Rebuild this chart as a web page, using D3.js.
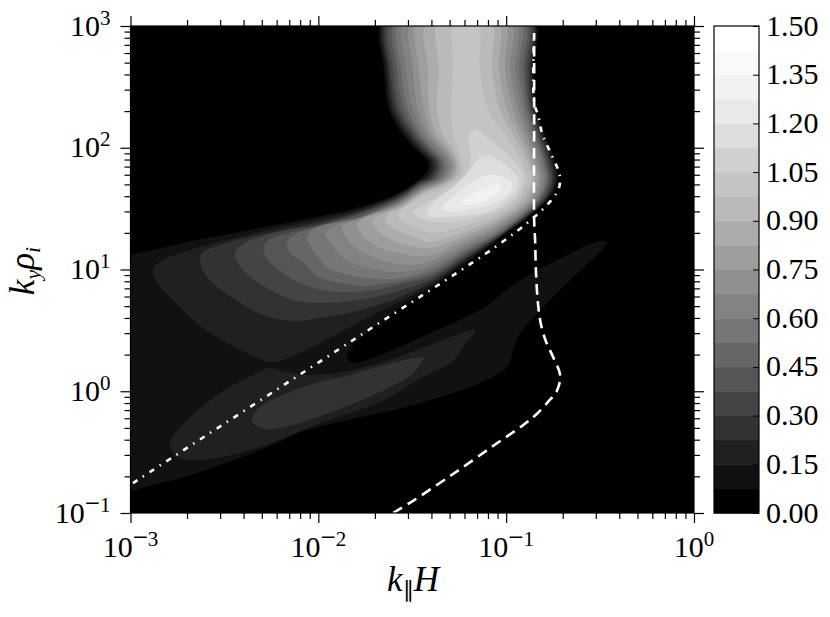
<!DOCTYPE html>
<html><head><meta charset="utf-8">
<script src="https://cdn.jsdelivr.net/npm/d3@7"></script>
<style>html,body{margin:0;padding:0;background:#fff}svg{display:block}text{font-family:"Liberation Serif",serif;fill:#000}</style>
</head><body><div id="c"></div>
<script>
// All contour data are log10(k_par H), log10(k_y rho_i).
const levelStep = 0.075, levelCount = 20;
const colorbarTicks = ["0.00","0.15","0.30","0.45","0.60","0.75","0.90","1.05","1.20","1.35","1.50"];
const bandGray = [0,17,32,50,68,85,102,118,130,144,158,172,186,196,208,221,233,242,249,255];
const xDecades = [-3,-2,-1,0], yDecades = [-1,0,1,2,3];

// plume rows shared by contour levels 1..13
const leftRowKy = [3.05,2.639,2.31,2.105,1.982,1.900,1.834,1.752];
const leftRowK = [
 [-1.655,-1.645,-1.634,-1.623,-1.607,-1.586,-1.565,-1.538,-1.501,-1.469,-1.421,-1.362,-1.272],
 [-1.650,-1.639,-1.629,-1.618,-1.602,-1.581,-1.560,-1.533,-1.496,-1.464,-1.416,-1.357,-1.282],
 [-1.623,-1.610,-1.597,-1.581,-1.565,-1.544,-1.522,-1.496,-1.469,-1.437,-1.410,-1.368,-1.293],
 [-1.549,-1.533,-1.517,-1.501,-1.485,-1.469,-1.453,-1.432,-1.410,-1.389,-1.368,-1.336,-1.282],
 [-1.480,-1.464,-1.448,-1.432,-1.416,-1.400,-1.384,-1.362,-1.341,-1.320,-1.304,-1.282,-1.256],
 [-1.424,-1.408,-1.392,-1.376,-1.365,-1.349,-1.333,-1.317,-1.301,-1.285,-1.274,-1.258,-1.237],
 [-1.416,-1.400,-1.384,-1.368,-1.357,-1.341,-1.325,-1.309,-1.293,-1.277,-1.266,-1.250,-1.229],
 [-1.453,-1.432,-1.416,-1.400,-1.384,-1.368,-1.352,-1.336,-1.320,-1.304,-1.288,-1.272,-1.250]];
const lowerRowK = [-1.405,-1.208,-1.032];
const lowerRowKy = [
 [0.848,0.865,0.889,0.914,0.939,0.963,0.996,1.029,1.070,1.119,1.177,1.226,1.300],
 [1.062,1.074,1.095,1.111,1.127,1.148,1.168,1.193,1.218,1.251,1.284,1.316,1.366],
 [1.259,1.267,1.275,1.284,1.292,1.300,1.316,1.333,1.357,1.382,1.407,1.431,1.464]];
const rightRowKy = [1.571,1.735,1.941,2.105,2.31,2.639,3.05];
const rightRowK = [
 [-0.782,-0.787,-0.795,-0.803,-0.814,-0.825,-0.835,-0.846,-0.857,-0.872,-0.888,-0.915,-0.942],
 [-0.723,-0.734,-0.745,-0.755,-0.766,-0.777,-0.787,-0.798,-0.814,-0.830,-0.846,-0.862,-0.888],
 [-0.750,-0.761,-0.771,-0.782,-0.793,-0.803,-0.814,-0.830,-0.846,-0.862,-0.883,-0.904,-0.936],
 [-0.793,-0.800,-0.809,-0.819,-0.830,-0.841,-0.857,-0.872,-0.888,-0.909,-0.931,-0.963,-1.005],
 [-0.838,-0.846,-0.854,-0.862,-0.872,-0.883,-0.897,-0.915,-0.936,-0.963,-0.995,-1.032,-1.096],
 [-0.854,-0.862,-0.870,-0.880,-0.894,-0.909,-0.931,-0.952,-0.979,-1.005,-1.037,-1.075,-1.139],
 [-0.854,-0.862,-0.870,-0.880,-0.894,-0.909,-0.931,-0.952,-0.979,-1.016,-1.048,-1.085,-1.155]];
// west parts of levels 1..13 (lobe tip and underside)
const westArcs = [
 [[-1.565,1.637],[-1.778,1.513],[-2.044,1.423],[-2.310,1.341],[-2.646,1.242],[-2.997,1.119],[-3.056,1.103],[-3.056,-0.844],[-2.997,-0.819],[-2.699,-0.696],[-2.433,-0.556],[-2.231,-0.433],[-2.097,-0.335],[-1.954,-0.277],[-1.458,-0.096],[-1.139,0.068],[-0.995,0.199],[-0.963,0.339],[-0.925,0.479],[-0.782,0.725],[-0.644,0.939],[-0.500,1.144],[-0.463,1.226],[-0.500,1.234],[-0.697,1.103],[-0.925,0.914],[-1.139,0.667],[-1.405,0.479],[-1.671,0.298],[-1.815,0.232],[-1.847,0.273],[-1.820,0.372],[-1.751,0.462],[-1.645,0.602],[-1.565,0.692]],
 [[-1.458,1.735],[-1.565,1.624],[-1.778,1.497],[-2.044,1.398],[-2.310,1.308],[-2.646,1.177],[-2.827,1.078],[-2.880,1.004],[-2.864,0.906],[-2.790,0.774],[-2.614,0.520],[-2.380,0.314],[-2.257,0.240],[-2.188,0.257],[-1.991,0.396],[-1.831,0.528],[-1.671,0.659],[-1.538,0.758]],
 [[-1.458,1.723],[-1.565,1.612],[-1.778,1.481],[-2.044,1.374],[-2.294,1.292],[-2.507,1.209],[-2.619,1.136],[-2.630,1.078],[-2.593,0.939],[-2.454,0.766],[-2.294,0.626],[-2.135,0.577],[-1.991,0.602],[-1.815,0.651],[-1.671,0.717],[-1.538,0.791]],
 [[-1.458,1.711],[-1.565,1.600],[-1.778,1.468],[-2.044,1.357],[-2.167,1.325],[-2.294,1.275],[-2.401,1.210],[-2.444,1.136],[-2.401,0.996],[-2.273,0.848],[-2.113,0.741],[-1.954,0.725],[-1.778,0.750],[-1.671,0.782],[-1.538,0.840]],
 [[-1.458,1.698],[-1.565,1.587],[-1.778,1.456],[-2.044,1.341],[-2.151,1.300],[-2.257,1.250],[-2.294,1.177],[-2.257,1.062],[-2.151,0.930],[-2.007,0.840],[-1.847,0.815],[-1.671,0.840],[-1.538,0.889]],
 [[-1.458,1.686],[-1.565,1.575],[-1.767,1.440],[-1.964,1.357],[-2.044,1.333],[-2.140,1.275],[-2.167,1.218],[-2.151,1.136],[-2.081,1.062],[-2.007,0.947],[-1.884,0.889],[-1.751,0.865],[-1.618,0.889]],
 [[-1.458,1.674],[-1.565,1.563],[-1.751,1.431],[-1.900,1.390],[-2.028,1.333],[-2.060,1.259],[-2.028,1.160],[-1.954,1.021],[-1.858,0.963],[-1.751,0.930],[-1.592,0.922]],
 [[-1.458,1.661],[-1.565,1.550],[-1.671,1.489],[-1.794,1.415],[-1.922,1.357],[-1.964,1.300],[-1.927,1.201],[-1.868,1.095],[-1.778,1.029],[-1.687,0.996],[-1.538,0.980]],
 [[-1.458,1.649],[-1.565,1.538],[-1.709,1.448],[-1.831,1.390],[-1.874,1.341],[-1.842,1.242],[-1.794,1.168],[-1.698,1.095],[-1.634,1.062],[-1.512,1.037]],
 [[-1.458,1.637],[-1.565,1.526],[-1.634,1.489],[-1.767,1.415],[-1.794,1.366],[-1.767,1.284],[-1.725,1.226],[-1.645,1.160],[-1.565,1.136],[-1.485,1.111]],
 [[-1.458,1.624],[-1.565,1.513],[-1.687,1.440],[-1.714,1.398],[-1.687,1.325],[-1.655,1.284],[-1.592,1.234],[-1.528,1.201]],
 [[-1.458,1.612],[-1.565,1.497],[-1.618,1.472],[-1.645,1.415],[-1.618,1.357],[-1.581,1.325],[-1.474,1.259]],
 [[-1.442,1.596],[-1.549,1.505],[-1.576,1.440],[-1.549,1.390],[-1.512,1.366]]];
// separate closed contours
const lobeLevel2 = [[-1.165,0.503],[-1.229,0.364],[-1.288,0.240],[-1.442,0.117],[-1.671,-0.088],[-1.991,-0.261],[-2.167,-0.376],[-2.310,-0.458],[-2.486,-0.532],[-2.646,-0.565],[-2.752,-0.540],[-2.790,-0.425],[-2.699,-0.236],[-2.523,-0.014],[-2.348,0.134],[-2.257,0.191],[-2.167,0.158],[-2.060,0.134],[-1.900,0.150],[-1.671,0.232],[-1.405,0.380]];
const lobeLevel3 = [[-1.442,0.273],[-1.496,0.150],[-1.671,-0.006],[-1.900,-0.154],[-2.135,-0.277],[-2.273,-0.310],[-2.353,-0.252],[-2.327,-0.154],[-2.167,-0.014],[-1.991,0.076],[-1.831,0.134],[-1.645,0.216]];
const peakLevel14 = [[-1.165,2.154],[-1.102,2.088],[-1.032,1.998],[-0.963,1.900],[-0.915,1.793],[-0.915,1.694],[-0.952,1.587],[-1.032,1.497],[-1.139,1.440],[-1.208,1.407],[-1.368,1.390],[-1.458,1.423],[-1.496,1.472],[-1.442,1.530],[-1.352,1.612],[-1.272,1.694],[-1.208,1.801],[-1.187,1.916],[-1.203,2.064],[-1.192,2.121]];
const peakLevel15 = [[-1.102,1.941],[-1.016,1.875],[-0.942,1.760],[-0.936,1.678],[-0.979,1.596],[-1.070,1.489],[-1.192,1.448],[-1.336,1.431],[-1.405,1.431],[-1.421,1.472],[-1.389,1.546],[-1.282,1.678],[-1.192,1.817],[-1.155,1.900]];
const peakLevel16 = [[-1.341,1.505],[-1.282,1.596],[-1.192,1.711],[-1.102,1.776],[-1.016,1.760],[-0.968,1.711],[-0.979,1.637],[-1.049,1.555],[-1.155,1.505],[-1.282,1.472]];
const peakLevel17 = [[-1.240,1.555],[-1.192,1.612],[-1.112,1.670],[-1.049,1.702],[-1.027,1.670],[-1.059,1.612],[-1.139,1.555],[-1.208,1.530]];
// overlaid curves
const dashedCurve = [[-1.602,-1],[-1.506,-0.910],[-1.283,-0.680],[-1.070,-0.450],[-0.909,-0.277],[-0.846,-0.199],[-0.777,-0.088],[-0.728,0.010],[-0.713,0.134],[-0.750,0.281],[-0.787,0.405],[-0.814,0.544],[-0.830,0.709],[-0.841,0.971],[-0.846,1.242],[-0.851,1.407],[-0.851,2.228],[-0.851,2.943]];
const dashDotCurve = [[-2.987,-0.754],[-1.815,0.421],[-1.112,1.127],[-0.942,1.316],[-0.857,1.423],[-0.782,1.530],[-0.723,1.653],[-0.713,1.743],[-0.723,1.817],[-0.766,1.965],[-0.809,2.121],[-0.830,2.269],[-0.851,2.368],[-0.851,2.943]];

const W=830,H=617, L=130.5,R=694,T=26,B=513, cbL=714,cbR=759;
const svg=d3.select("#c").append("svg").attr("width",W).attr("height",H);
const x=d3.scaleLog().domain([1e-3,1]).range([L,R]);
const y=d3.scaleLog().domain([0.1,1000]).range([B,T]);
const cb=d3.scaleLinear().domain([0,levelStep*levelCount]).range([B,T]);
const grayOf=i=>d3.rgb(bandGray[i],bandGray[i],bandGray[i]).formatHex();

svg.append("clipPath").attr("id","plot").append("rect").attr("x",L).attr("y",T).attr("width",R-L).attr("height",B-T);
const plot=svg.append("g").attr("clip-path","url(#plot)");
plot.append("rect").attr("x",L).attr("y",T).attr("width",R-L).attr("height",B-T).attr("fill",grayOf(0));

const area=d3.line().x(d=>x(Math.pow(10,d[0]))).y(d=>y(Math.pow(10,d[1]))).curve(d3.curveCatmullRomClosed.alpha(0.5));
const open=d3.line().x(d=>x(Math.pow(10,d[0]))).y(d=>y(Math.pow(10,d[1]))).curve(d3.curveCatmullRom.alpha(0.5));

function plume(l){
  const pts=[];
  leftRowKy.forEach((ky,r)=>pts.push([leftRowK[r][l],ky]));
  westArcs[l].forEach(p=>pts.push(p));
  lowerRowK.forEach((k,r)=>pts.push([k,lowerRowKy[r][l]]));
  rightRowKy.forEach((ky,r)=>pts.push([rightRowK[r][l],ky]));
  return pts;
}
const shapes=[];
d3.range(13).forEach(l=>{
  shapes.push({band:l+1,pts:plume(l)});
  if(l===1) shapes.push({band:2,pts:lobeLevel2});
  if(l===2) shapes.push({band:3,pts:lobeLevel3});
});
shapes.push({band:14,pts:peakLevel14},{band:15,pts:peakLevel15},{band:16,pts:peakLevel16},{band:17,pts:peakLevel17});
plot.selectAll("path.band").data(shapes).join("path").attr("class","band")
  .attr("d",d=>area(d.pts)).attr("fill",d=>grayOf(d.band));

plot.append("path").attr("d",open(dashedCurve)).attr("fill","none").attr("stroke","#fff").attr("stroke-width",2.6).attr("stroke-dasharray","10.5 6.5");
plot.append("path").attr("d",open(dashDotCurve)).attr("fill","none").attr("stroke","#fff").attr("stroke-width",2.6).attr("stroke-dasharray","5.5 6.5 1.5 6.5");

// axes
const minors=(decs)=>{const o=[];decs.slice(0,-1).forEach(d=>d3.range(2,10).forEach(m=>o.push(m*Math.pow(10,d))));return o;};
const xMaj=xDecades.map(d=>Math.pow(10,d)), yMaj=yDecades.map(d=>Math.pow(10,d));
function axis(make,scale,vals,size,tr){
  const g=svg.append("g").attr("transform",tr).call(make(scale).tickValues(vals).tickSize(size).tickFormat(""));
  g.select(".domain").remove();
  g.selectAll("line").attr("stroke","#000").attr("stroke-width",1.2);
}
[[d3.axisBottom,`translate(0,${B})`],[d3.axisTop,`translate(0,${T})`]].forEach(a=>{
  axis(a[0],x,xMaj,10,a[1]); axis(a[0],x,minors(xDecades),6,a[1]);
});
[[d3.axisLeft,`translate(${L},0)`],[d3.axisRight,`translate(${R},0)`]].forEach(a=>{
  axis(a[0],y,yMaj,10,a[1]); axis(a[0],y,minors(yDecades),6,a[1]);
});
svg.append("rect").attr("x",L).attr("y",T).attr("width",R-L).attr("height",B-T).attr("fill","none").attr("stroke","#000").attr("stroke-width",1.2);

const FS=30, SUP=21;
function power(sel,dec){
  sel.append("tspan").text("10");
  if(dec<0){
    sel.append("tspan").attr("dy",-11).attr("font-size",27).text("\u2212");
    sel.append("tspan").attr("font-size",SUP).text(""+(-dec));
  } else {
    sel.append("tspan").attr("dy",-11).attr("font-size",SUP).text(""+dec);
  }
}
xDecades.forEach(d=>{
  const t=svg.append("text").attr("x",x(Math.pow(10,d))).attr("y",B+44).attr("font-size",FS).attr("text-anchor","middle");
  power(t,d);
});
yDecades.forEach(d=>{
  const t=svg.append("text").attr("x",L-20).attr("y",y(Math.pow(10,d))+9.5).attr("font-size",FS).attr("text-anchor","end");
  power(t,d);
});
// axis titles
const xl=svg.append("text").attr("x",413).attr("y",591).attr("font-size",35).attr("text-anchor","middle");
xl.append("tspan").attr("font-style","italic").text("k");
xl.append("tspan").attr("font-size",22).attr("dy",6).text("\u2225");
xl.append("tspan").attr("font-style","italic").attr("dy",-6).text("H");
const yl=svg.append("text").attr("transform","translate(34,271) rotate(-90)").attr("font-size",35).attr("text-anchor","middle");
yl.append("tspan").attr("font-style","italic").text("k");
yl.append("tspan").attr("font-style","italic").attr("font-size",22).attr("dy",6).text("y");
yl.append("tspan").attr("font-style","italic").attr("dy",-6).text("\u03C1");
yl.append("tspan").attr("font-style","italic").attr("font-size",22).attr("dy",6).text("i");

// colorbar
const bands=d3.range(levelCount);
svg.selectAll("rect.cb").data(bands).join("rect").attr("class","cb")
  .attr("x",cbL).attr("width",cbR-cbL)
  .attr("y",i=>cb((i+1)*levelStep)).attr("height",i=>cb(i*levelStep)-cb((i+1)*levelStep)+0.5)
  .attr("fill",i=>grayOf(i));
svg.append("rect").attr("x",cbL).attr("y",T).attr("width",cbR-cbL).attr("height",B-T).attr("fill","none").attr("stroke","#000").attr("stroke-width",1.2);
const cbAxis=svg.append("g").attr("transform",`translate(${cbR},0)`)
  .call(d3.axisLeft(cb).tickValues(colorbarTicks.map(Number)).tickSize(6).tickFormat(""));
cbAxis.select(".domain").remove();
cbAxis.selectAll("line").attr("stroke","#000").attr("stroke-width",1);
svg.selectAll("text.cbl").data(colorbarTicks).join("text").attr("class","cbl")
  .attr("x",766).attr("y",d=>cb(+d)+9.5).attr("font-size",FS).text(d=>d);
</script></body></html>
